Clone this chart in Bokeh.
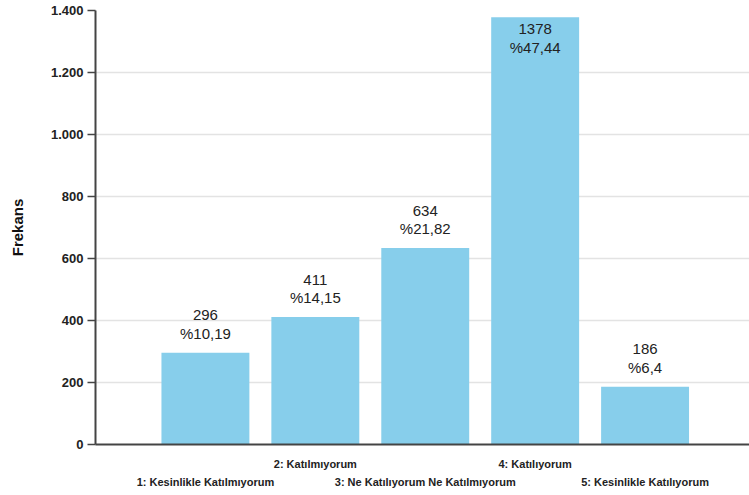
from bokeh.plotting import figure
from bokeh.models import ColumnDataSource, FixedTicker, LinearAxis, Range1d
from bokeh.embed import file_html
from bokeh.resources import INLINE
from bokeh.core.properties import value

# ---- data ----
categories = ["1: Kesinlikle Katılmıyorum", "2: Katılmıyorum",
              "3: Ne Katılıyorum Ne Katılmıyorum", "4: Katılıyorum",
              "5: Kesinlikle Katılıyorum"]
positions = [1, 2, 3, 4, 5]
counts = [296, 411, 634, 1378, 186]
percents = ["%10,19", "%14,15", "%21,82", "%47,44", "%6,4"]
y_ticks = [0, 200, 400, 600, 800, 1000, 1200, 1400]
y_tick_labels = ["0", "200", "400", "600", "800", "1.000", "1.200", "1.400"]

FONT = "Liberation Sans"
Y_MAX = 1400

labels = [f"{c}\n{p}" for c, p in zip(counts, percents)]
inside = [c > 1250 for c in counts]

src_bars = ColumnDataSource(dict(x=positions, top=counts))
src_out = ColumnDataSource(dict(
    x=[x for x, f in zip(positions, inside) if not f],
    y=[c for c, f in zip(counts, inside) if not f],
    t=[t for t, f in zip(labels, inside) if not f]))
src_in = ColumnDataSource(dict(
    x=[x for x, f in zip(positions, inside) if f],
    y=[c for c, f in zip(counts, inside) if f],
    t=[t for t, f in zip(labels, inside) if f]))

p = figure(width=749, height=495, output_backend="svg", toolbar_location=None,
           x_range=Range1d(0, 5.95), y_range=Range1d(0, Y_MAX),
           min_border_left=95, min_border_right=0, min_border_top=10,
           min_border_bottom=51)
p.outline_line_color = None
p.background_fill_color = "white"
p.border_fill_color = "white"

p.vbar(x="x", top="top", width=0.8, source=src_bars,
       fill_color="#87CEEB", line_color=None)

p.text(x="x", y="y", text="t", source=src_out, text_align="center",
       text_baseline="bottom", y_offset=-11, text_font=value(FONT),
       text_font_size="15px", text_color="#222222", text_line_height=1.08)
p.text(x="x", y="y", text="t", source=src_in, text_align="center",
       text_baseline="top", y_offset=3, text_font=value(FONT),
       text_font_size="15px", text_color="#222222", text_line_height=1.08)

# grid
p.xgrid.grid_line_color = None
p.ygrid.ticker = FixedTicker(ticks=y_ticks)
p.ygrid.grid_line_color = "#e3e3e3"
p.ygrid.grid_line_width = 1.5

# y axis
ya = p.yaxis[0]
ya.ticker = FixedTicker(ticks=y_ticks)
ya.major_label_overrides = {t: l for t, l in zip(y_ticks, y_tick_labels)}
ya.major_label_text_font = FONT
ya.major_label_text_font_style = "bold"
ya.major_label_text_font_size = "13px"
ya.major_label_text_color = "#222222"
ya.major_tick_out = 8
ya.major_tick_in = 0
ya.major_tick_line_color = "#444444"
ya.major_tick_line_width = 1.5
ya.minor_tick_line_color = None
ya.axis_line_color = "#444444"
ya.axis_line_width = 2
ya.major_label_standoff = 4
ya.axis_label = "Frekans"
ya.axis_label_text_font = FONT
ya.axis_label_text_font_style = "bold"
ya.axis_label_text_font_size = "15px"
ya.axis_label_text_color = "#111111"
ya.axis_label_standoff = 22

# x axes (staggered labels)
def style_x(ax, ticks, standoff, line):
    ax.ticker = FixedTicker(ticks=ticks)
    ax.major_label_overrides = {positions[i - 1]: categories[i - 1] for i in ticks}
    ax.major_label_text_font = FONT
    ax.major_label_text_font_style = "bold"
    ax.major_label_text_font_size = "11px"
    ax.major_label_text_color = "#222222"
    ax.major_tick_line_color = None
    ax.minor_tick_line_color = None
    ax.major_tick_out = 0
    ax.major_tick_in = 0
    ax.major_label_standoff = standoff
    ax.axis_line_color = "#444444" if line else None
    ax.axis_line_width = 2

style_x(p.xaxis[0], [2, 4], 13, True)
xa2 = LinearAxis()
style_x(xa2, [1, 3, 5], 3, False)
p.add_layout(xa2, "below")

open("out.html", "w").write(file_html(p, INLINE))
